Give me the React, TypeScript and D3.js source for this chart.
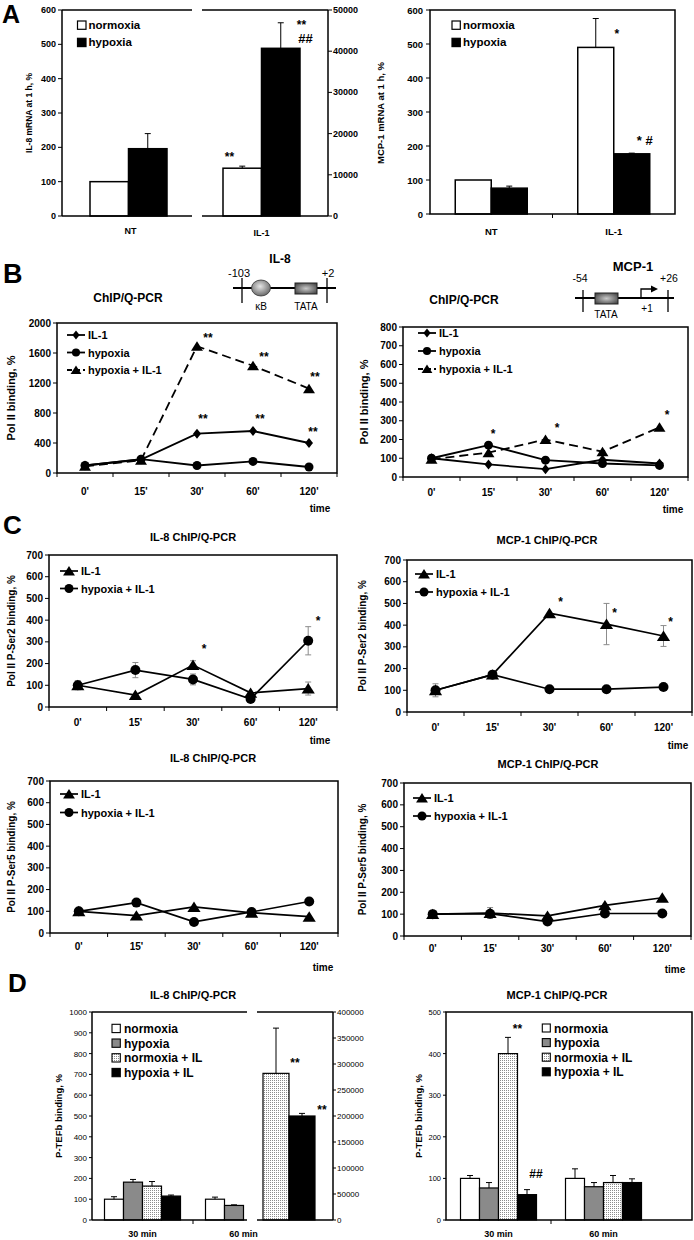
import React from "react";
import * as d3 from "d3";

const FONT = "'Liberation Sans', Arial, Helvetica, sans-serif";

// ---------- Panel A ----------
const groupsA = ["NT", "IL-1"];
const seriesA = ["normoxia", "hypoxia"];
const il8mRNA_NT = [100, 196];
const il8mRNA_NT_err = [100, 240];
const il8mRNA_IL1 = [11600, 40700]; // right axis units
const il8mRNA_IL1_err = [12100, 46900];
const mcp1mRNA_NT = [100, 76];
const mcp1mRNA_NT_err = [100, 82];
const mcp1mRNA_IL1 = [490, 177];
const mcp1mRNA_IL1_err = [575, 179];
const ticksA = [0, 100, 200, 300, 400, 500, 600];
const ticksA_right = [0, 10000, 20000, 30000, 40000, 50000];

// ---------- Panel B ----------
const timeLabels = ["0'", "15'", "30'", "60'", "120'"];
const bIL8_IL1 = [100, 180, 525, 560, 400];
const bIL8_hyp = [100, 185, 100, 155, 80];
const bIL8_hypIL1 = [90, 170, 1690, 1430, 1125];
const bMCP1_IL1 = [100, 67, 42, 92, 72];
const bMCP1_hyp = [100, 170, 90, 72, 62];
const bMCP1_hypIL1 = [95, 130, 200, 135, 265];
const ticksB_IL8 = [0, 400, 800, 1200, 1600, 2000];
const ticksB_MCP1 = [0, 100, 200, 300, 400, 500, 600, 700, 800];

// ---------- Panel C ----------
const cSer2IL8_IL1 = [100, 55, 193, 65, 85];
const cSer2IL8_IL1_sd = [20, 0, 20, 0, 30];
const cSer2IL8_hypIL1 = [100, 170, 127, 37, 305];
const cSer2IL8_hypIL1_sd = [20, 35, 25, 0, 65];
const cSer2MCP1_IL1 = [100, 172, 455, 405, 350];
const cSer2MCP1_IL1_sd = [30, 0, 0, 95, 48];
const cSer2MCP1_hypIL1 = [100, 172, 105, 105, 115];
const cSer5IL8_IL1 = [100, 80, 120, 93, 75];
const cSer5IL8_hypIL1 = [100, 140, 51, 97, 145];
const cSer5MCP1_IL1 = [100, 105, 92, 140, 175];
const cSer5MCP1_IL1_sd = [0, 25, 0, 0, 0];
const cSer5MCP1_hypIL1 = [100, 102, 66, 103, 103];
const ticksC = [0, 100, 200, 300, 400, 500, 600, 700];

// ---------- Panel D ----------
const timesD = ["30 min", "60 min"];
const seriesD = ["normoxia", "hypoxia", "normoxia + IL", "hypoxia + IL"];
const dIL8_30 = [100, 182, 163, 115];
const dIL8_30_err = [112, 195, 185, 120];
const dIL8_60 = [100, 70];
const dIL8_60_err = [110, 73];
const dIL8_60_IL = [282000, 200000]; // right axis units
const dIL8_60_IL_err = [369000, 205000];
const dMCP1_30 = [100, 77, 400, 61];
const dMCP1_30_err = [107, 90, 439, 73];
const dMCP1_60 = [100, 80, 90, 90];
const dMCP1_60_err = [123, 90, 107, 99];
const ticksD_IL8 = [0, 100, 200, 300, 400, 500, 600, 700, 800, 900, 1000];
const ticksD_IL8_right = [0, 50000, 100000, 150000, 200000, 250000, 300000, 350000, 400000];
const ticksD_MCP1 = [0, 100, 200, 300, 400, 500];

const fillsD = ["#fff", "#8a8a8a", "url(#stipple)", "#000"];

type Marker = "diamond" | "circle" | "triangle";

function MarkerShape({ m, x, y, s }: { m: Marker; x: number; y: number; s: number }) {
  if (m === "circle") return <circle cx={x} cy={y} r={s * 0.5} fill="#000" />;
  if (m === "diamond")
    return (
      <path
        d={`M${x},${y - s * 0.5}L${x + s * 0.4},${y}L${x},${y + s * 0.5}L${x - s * 0.4},${y}Z`}
        fill="#000"
      />
    );
  return (
    <path
      d={`M${x},${y - s * 0.5}L${x + s * 0.6},${y + s * 0.45}L${x - s * 0.6},${y + s * 0.45}Z`}
      fill="#000"
    />
  );
}

interface Series {
  name: string;
  values: number[];
  sd?: number[];
  marker: Marker;
  dashed?: boolean;
}
interface Annot {
  s: number;
  i: number;
  v: number;
  t: string;
  dx: number;
}
interface LPProps {
  left: number;
  right: number;
  top: number;
  bottom: number;
  ticks: number[];
  series: Series[];
  legendX: number;
  legendY: number;
  legendDy: number;
  annots: Annot[];
  yTitle: string;
  yTitleX: number;
  yTitleSize: number;
  xLabelY: number;
  timeX: number;
  timeY: number;
  msize: number;
  csize: number;
  lw: number;
}

function LinePanel(p: LPProps) {
  const x = d3.scaleBand<string>().domain(timeLabels).range([p.left, p.right]);
  const yMax = p.ticks[p.ticks.length - 1];
  const y = d3.scaleLinear().domain([0, yMax]).range([p.bottom, p.top]);
  const cx = (i: number) => (x(timeLabels[i]) as number) + x.bandwidth() / 2;
  const line = d3
    .line<number>()
    .x((_, i) => cx(i))
    .y((v) => y(v));
  const sz = (m: Marker) => (m === "circle" ? p.csize : p.msize);
  return (
    <g>
      <rect
        x={p.left}
        y={p.top}
        width={p.right - p.left}
        height={p.bottom - p.top}
        fill="none"
        stroke="#000"
        strokeWidth={1.5}
      />
      {p.ticks.map((t) => (
        <g key={t}>
          <line x1={p.left - 4} x2={p.left} y1={y(t)} y2={y(t)} stroke="#000" strokeWidth={1} />
          <text x={p.left - 6} y={y(t) + 3.5} textAnchor="end" fontSize={10} fontWeight="bold">
            {t}
          </text>
        </g>
      ))}
      {timeLabels.map((t, i) => (
        <g key={t}>
          <line
            x1={x(t) as number}
            x2={x(t) as number}
            y1={p.bottom}
            y2={p.bottom + 4}
            stroke="#000"
            strokeWidth={1}
          />
          <text x={cx(i)} y={p.xLabelY} textAnchor="middle" fontSize={10} fontWeight="bold">
            {t}
          </text>
        </g>
      ))}
      <line x1={p.right} x2={p.right} y1={p.bottom} y2={p.bottom + 4} stroke="#000" />
      <text x={p.timeX} y={p.timeY} textAnchor="middle" fontSize={10} fontWeight="bold">
        time
      </text>
      <text
        transform={`translate(${p.yTitleX},${(p.top + p.bottom) / 2}) rotate(-90)`}
        textAnchor="middle"
        fontSize={p.yTitleSize}
        fontWeight="bold"
      >
        {p.yTitle}
      </text>
      {p.series.map((s, si) =>
        (s.sd || []).map((e, i) =>
          e > 0 ? (
            <g key={`e${si}-${i}`} stroke="#8c8c8c" strokeWidth={1}>
              <line x1={cx(i)} x2={cx(i)} y1={y(s.values[i] - e)} y2={y(s.values[i] + e)} />
              <line x1={cx(i) - 3} x2={cx(i) + 3} y1={y(s.values[i] - e)} y2={y(s.values[i] - e)} />
              <line x1={cx(i) - 3} x2={cx(i) + 3} y1={y(s.values[i] + e)} y2={y(s.values[i] + e)} />
            </g>
          ) : null
        )
      )}
      {p.series.map((s, si) => (
        <path
          key={`l${si}`}
          d={line(s.values) as string}
          fill="none"
          stroke="#000"
          strokeWidth={p.lw}
          strokeDasharray={s.dashed ? "9,5" : undefined}
        />
      ))}
      {p.series.map((s, si) =>
        s.values.map((v, i) => (
          <MarkerShape key={`m${si}-${i}`} m={s.marker} x={cx(i)} y={y(v)} s={sz(s.marker)} />
        ))
      )}
      {p.annots.map((a, k) => (
        <text
          key={`a${k}`}
          x={cx(a.i) + a.dx}
          y={y(a.v)}
          textAnchor="middle"
          fontSize={12}
          fontWeight="bold"
        >
          {a.t}
        </text>
      ))}
      {p.series.map((s, si) => {
        const ly = p.legendY + si * p.legendDy;
        return (
          <g key={`lg${si}`}>
            <line
              x1={p.legendX}
              x2={p.legendX + 18}
              y1={ly}
              y2={ly}
              stroke="#000"
              strokeWidth={p.lw}
              strokeDasharray={s.dashed ? "5,3" : undefined}
            />
            <MarkerShape m={s.marker} x={p.legendX + 9} y={ly} s={sz(s.marker) * 0.9} />
            <text x={p.legendX + 21} y={ly + 4} fontSize={11} fontWeight="bold">
              {s.name}
            </text>
          </g>
        );
      })}
    </g>
  );
}

function ErrUp({ x, y0, y1 }: { x: number; y0: number; y1: number }) {
  if (Math.abs(y0 - y1) < 0.5) return null;
  return (
    <g stroke="#000" strokeWidth={1}>
      <line x1={x} x2={x} y1={y0} y2={y1} />
      <line x1={x - 3} x2={x + 3} y1={y1} y2={y1} />
    </g>
  );
}

function PanelALeft() {
  const L = 62,
    R = 328,
    T = 10,
    B = 216,
    gL = 192,
    gR = 202;
  const yL = d3.scaleLinear().domain([0, 600]).range([B, T]);
  const yR = d3.scaleLinear().domain([0, 50000]).range([B, T]);
  const x = d3.scaleBand<string>().domain(groupsA).range([L, R]);
  const bw = 38.5;
  const xs = d3.scaleBand<string>().domain(seriesA).range([-bw, bw]);
  const fills = ["#fff", "#000"];
  const groups = [
    { vals: il8mRNA_NT, errs: il8mRNA_NT_err, y: yL },
    { vals: il8mRNA_IL1, errs: il8mRNA_IL1_err, y: yR },
  ];
  const gc = (g: string) => (x(g) as number) + x.bandwidth() / 2;
  return (
    <g>
      <text x={2} y={23} fontSize={25} fontWeight="bold">
        A
      </text>
      {groups.map((G, gi) =>
        G.vals.map((v, si) => {
          const bx = gc(groupsA[gi]) + (xs(seriesA[si]) as number);
          return (
            <g key={`${gi}-${si}`}>
              <rect
                x={bx}
                y={G.y(v)}
                width={xs.bandwidth()}
                height={B - G.y(v)}
                fill={fills[si]}
                stroke="#000"
                strokeWidth={1.5}
              />
              <ErrUp x={bx + xs.bandwidth() / 2} y0={G.y(v)} y1={G.y(G.errs[si])} />
            </g>
          );
        })
      )}
      <g stroke="#000" strokeWidth={1.5}>
        <line x1={L} x2={gL} y1={T} y2={T} />
        <line x1={gR} x2={R} y1={T} y2={T} />
        <line x1={L} x2={gL} y1={B} y2={B} />
        <line x1={gR} x2={R} y1={B} y2={B} />
        <line x1={L} x2={L} y1={T} y2={B} />
        <line x1={R} x2={R} y1={T} y2={B} />
      </g>
      {ticksA.map((t) => (
        <g key={t}>
          <line x1={L - 4} x2={L} y1={yL(t)} y2={yL(t)} stroke="#000" />
          <text x={L - 6} y={yL(t) + 3} textAnchor="end" fontSize={9} fontWeight="bold">
            {t}
          </text>
        </g>
      ))}
      {ticksA_right.map((t) => (
        <g key={t}>
          <line x1={R} x2={R + 4} y1={yR(t)} y2={yR(t)} stroke="#000" />
          <text x={R + 5} y={yR(t) + 3} fontSize={9} fontWeight="bold">
            {t}
          </text>
        </g>
      ))}
      <text
        transform={`translate(32,${(T + B) / 2}) rotate(-90)`}
        textAnchor="middle"
        fontSize={8.5}
        fontWeight="bold"
      >
        IL-8 mRNA at 1 h, %
      </text>
      <text x={gc("NT") + 2} y={234} textAnchor="middle" fontSize={9} fontWeight="bold">
        NT
      </text>
      <text x={gc("IL-1")} y={236} textAnchor="middle" fontSize={9} fontWeight="bold">
        IL-1
      </text>
      <text x={gc("IL-1") - 32} y={yR(13300)} textAnchor="middle" fontSize={12} fontWeight="bold">
        **
      </text>
      <text x={gc("IL-1") + 40} y={yR(45400)} textAnchor="middle" fontSize={12} fontWeight="bold">
        **
      </text>
      <text x={gc("IL-1") + 44} y={yR(42000)} textAnchor="middle" fontSize={13} fontWeight="bold">
        ##
      </text>
      {seriesA.map((s, i) => (
        <g key={s}>
          <rect x={77.5} y={21 + i * 17.3} width={8.5} height={8.3} fill={fills[i]} stroke="#000" strokeWidth={1.2} />
          <text x={88.5} y={29 + i * 17.3} fontSize={11.5} fontWeight="bold">
            {s}
          </text>
        </g>
      ))}
    </g>
  );
}

function PanelARight() {
  const L = 430,
    R = 675,
    T = 10,
    B = 214;
  const y = d3.scaleLinear().domain([0, 600]).range([B, T]);
  const x = d3.scaleBand<string>().domain(groupsA).range([L, R]);
  const bw = 36;
  const xs = d3.scaleBand<string>().domain(seriesA).range([-bw, bw]);
  const fills = ["#fff", "#000"];
  const groups = [
    { vals: mcp1mRNA_NT, errs: mcp1mRNA_NT_err },
    { vals: mcp1mRNA_IL1, errs: mcp1mRNA_IL1_err },
  ];
  const gc = (g: string) => (x(g) as number) + x.bandwidth() / 2;
  return (
    <g>
      {groups.map((G, gi) =>
        G.vals.map((v, si) => {
          const bx = gc(groupsA[gi]) + (xs(seriesA[si]) as number);
          return (
            <g key={`${gi}-${si}`}>
              <rect
                x={bx}
                y={y(v)}
                width={xs.bandwidth()}
                height={B - y(v)}
                fill={fills[si]}
                stroke="#000"
                strokeWidth={1.5}
              />
              <ErrUp x={bx + xs.bandwidth() / 2} y0={y(v)} y1={y(G.errs[si])} />
            </g>
          );
        })
      )}
      <rect x={L} y={T} width={R - L} height={B - T} fill="none" stroke="#000" strokeWidth={1.5} />
      <line x1={gc("NT") + x.bandwidth() / 2} x2={gc("NT") + x.bandwidth() / 2} y1={B} y2={B + 4} stroke="#000" />
      {ticksA.map((t) => (
        <g key={t}>
          <line x1={L - 4} x2={L} y1={y(t)} y2={y(t)} stroke="#000" />
          <text x={L - 7} y={y(t) + 3.5} textAnchor="end" fontSize={9.5} fontWeight="bold">
            {t}
          </text>
        </g>
      ))}
      <text
        transform={`translate(384,${(T + B) / 2 + 1}) rotate(-90)`}
        textAnchor="middle"
        fontSize={9.5}
        fontWeight="bold"
      >
        MCP-1 mRNA at 1 h, %
      </text>
      {groupsA.map((g) => (
        <text key={g} x={gc(g)} y={235} textAnchor="middle" fontSize={9.5} fontWeight="bold">
          {g}
        </text>
      ))}
      <text x={gc("IL-1") + 3} y={y(518)} textAnchor="middle" fontSize={12} fontWeight="bold">
        *
      </text>
      <text x={gc("IL-1") + 31} y={y(203)} textAnchor="middle" fontSize={13} fontWeight="bold">
        * #
      </text>
      {seriesA.map((s, i) => (
        <g key={s}>
          <rect x={452} y={21 + i * 17.3} width={8.3} height={8.3} fill={fills[i]} stroke="#000" strokeWidth={1.2} />
          <text x={463} y={29 + i * 17.3} fontSize={11.5} fontWeight="bold">
            {s}
          </text>
        </g>
      ))}
    </g>
  );
}

function DiagramIL8() {
  return (
    <g>
      <text x={280} y={263} textAnchor="middle" fontSize={12} fontWeight="bold">
        IL-8
      </text>
      <text x={239} y={277} textAnchor="middle" fontSize={11}>
        -103
      </text>
      <text x={328} y={277} textAnchor="middle" fontSize={11}>
        +2
      </text>
      <line x1={233} x2={336} y1={288} y2={288} stroke="#000" strokeWidth={2} />
      <line x1={242} x2={242} y1={278} y2={303} stroke="#000" strokeWidth={1.3} />
      <line x1={327} x2={327} y1={278} y2={303} stroke="#000" strokeWidth={1.3} />
      <ellipse cx={261} cy={288} rx={9.5} ry={8} fill="url(#ballGrad)" stroke="#333" strokeWidth={0.8} />
      <rect x={295} y={283} width={22} height={11} fill="url(#boxGrad)" stroke="#222" strokeWidth={1} />
      <text x={261} y={310} textAnchor="middle" fontSize={10}>
        κB
      </text>
      <text x={306} y={310} textAnchor="middle" fontSize={10}>
        TATA
      </text>
    </g>
  );
}

function DiagramMCP1() {
  return (
    <g>
      <text x={633} y={271} textAnchor="middle" fontSize={13} fontWeight="bold">
        MCP-1
      </text>
      <text x={580} y={282} textAnchor="middle" fontSize={10.5}>
        -54
      </text>
      <text x={669} y={282} textAnchor="middle" fontSize={10.5}>
        +26
      </text>
      <line x1={575} x2={674} y1={298} y2={298} stroke="#000" strokeWidth={2} />
      <line x1={583} x2={583} y1={290} y2={312} stroke="#000" strokeWidth={1.3} />
      <line x1={668} x2={668} y1={290} y2={312} stroke="#000" strokeWidth={1.3} />
      <rect x={595} y={293} width={23} height={11} fill="url(#boxGrad)" stroke="#222" strokeWidth={1} />
      <path d="M641,298V289H652" fill="none" stroke="#000" strokeWidth={1.3} />
      <path d="M651,285.5L658,289L651,292.5Z" fill="#000" />
      <text x={647} y={312} textAnchor="middle" fontSize={10}>
        +1
      </text>
      <text x={606} y={318} textAnchor="middle" fontSize={10}>
        TATA
      </text>
    </g>
  );
}

function PanelD_IL8() {
  const L = 92,
    R = 333,
    T = 1012,
    B = 1220,
    gL = 247,
    gR = 257;
  const y = d3.scaleLinear().domain([0, 1000]).range([B, T]);
  const yR = d3.scaleLinear().domain([0, 400000]).range([B, T]);
  const x = d3.scaleBand<string>().domain(timesD).range([L, 294]);
  const bw = 19;
  const xs = d3.scaleBand<string>().domain(seriesD).range([-2 * bw, 2 * bw]);
  const xr = d3.scaleBand<string>().domain(seriesD.slice(2)).range([263, 315]);
  const gc = (g: string) => (x(g) as number) + x.bandwidth() / 2;
  const bars: { bx: number; w: number; v: number; e: number; f: string; sc: any }[] = [];
  dIL8_30.forEach((v, i) =>
    bars.push({ bx: gc(timesD[0]) + (xs(seriesD[i]) as number), w: bw, v, e: dIL8_30_err[i], f: fillsD[i], sc: y })
  );
  dIL8_60.forEach((v, i) =>
    bars.push({ bx: gc(timesD[1]) + (xs(seriesD[i]) as number), w: bw, v, e: dIL8_60_err[i], f: fillsD[i], sc: y })
  );
  dIL8_60_IL.forEach((v, i) =>
    bars.push({ bx: xr(seriesD[i + 2]) as number, w: xr.bandwidth(), v, e: dIL8_60_IL_err[i], f: fillsD[i + 2], sc: yR })
  );
  return (
    <g>
      <text x={8} y={992} fontSize={26} fontWeight="bold">
        D
      </text>
      <text x={193} y={999} textAnchor="middle" fontSize={11} fontWeight="bold">
        IL-8 ChIP/Q-PCR
      </text>
      {bars.map((b, k) => (
        <g key={k}>
          <rect x={b.bx} y={b.sc(b.v)} width={b.w} height={B - b.sc(b.v)} fill={b.f} stroke="#000" strokeWidth={1.2} />
          <ErrUp x={b.bx + b.w / 2} y0={b.sc(b.v)} y1={b.sc(b.e)} />
        </g>
      ))}
      <g stroke="#000" strokeWidth={1.5}>
        <line x1={L} x2={gL} y1={T} y2={T} />
        <line x1={gR} x2={R} y1={T} y2={T} />
        <line x1={L} x2={gL} y1={B} y2={B} />
        <line x1={gR} x2={R} y1={B} y2={B} />
        <line x1={L} x2={L} y1={T} y2={B} />
        <line x1={R} x2={R} y1={T} y2={B} />
      </g>
      <line x1={x(timesD[1]) as number} x2={x(timesD[1]) as number} y1={B} y2={B + 4} stroke="#000" />
      {ticksD_IL8.map((t) => (
        <g key={t}>
          <line x1={L - 3} x2={L} y1={y(t)} y2={y(t)} stroke="#000" />
          <text x={L - 5} y={y(t) + 3} textAnchor="end" fontSize={8}>
            {t}
          </text>
        </g>
      ))}
      {ticksD_IL8_right.map((t) => (
        <g key={t}>
          <line x1={R} x2={R + 3} y1={yR(t)} y2={yR(t)} stroke="#000" />
          <text x={R + 4} y={yR(t) + 3} fontSize={8}>
            {t}
          </text>
        </g>
      ))}
      <text
        transform={`translate(62,${(T + B) / 2}) rotate(-90)`}
        textAnchor="middle"
        fontSize={9.5}
        fontWeight="bold"
      >
        P-TEFb binding, %
      </text>
      {timesD.map((t) => (
        <text key={t} x={gc(t)} y={1236.5} textAnchor="middle" fontSize={9} fontWeight="bold">
          {t}
        </text>
      ))}
      <text x={(xr(seriesD[2]) as number) + xr.bandwidth() / 2 + 19} y={yR(293700)} textAnchor="middle" fontSize={12} fontWeight="bold">
        **
      </text>
      <text x={(xr(seriesD[3]) as number) + xr.bandwidth() / 2 + 20} y={yR(204800)} textAnchor="middle" fontSize={12} fontWeight="bold">
        **
      </text>
      {seriesD.map((s, i) => (
        <g key={s}>
          <rect x={112} y={1024.3 + i * 14.7} width={8.3} height={8.3} fill={fillsD[i]} stroke="#000" strokeWidth={1.1} />
          <text x={124} y={1033 + i * 14.7} fontSize={12} fontWeight="bold">
            {s}
          </text>
        </g>
      ))}
    </g>
  );
}

function PanelD_MCP1() {
  const L = 446,
    R = 692,
    T = 1012,
    B = 1220;
  const y = d3.scaleLinear().domain([0, 500]).range([B, T]);
  const x = d3.scaleBand<string>().domain(timesD).range([L, 656]);
  const bw = 19;
  const xs = d3.scaleBand<string>().domain(seriesD).range([-2 * bw, 2 * bw]);
  const gc = (g: string) => (x(g) as number) + x.bandwidth() / 2;
  const groups = [
    { vals: dMCP1_30, errs: dMCP1_30_err },
    { vals: dMCP1_60, errs: dMCP1_60_err },
  ];
  const barC = (gi: number, si: number) => gc(timesD[gi]) + (xs(seriesD[si]) as number) + bw / 2;
  return (
    <g>
      <text x={557} y={999} textAnchor="middle" fontSize={11} fontWeight="bold">
        MCP-1 ChIP/Q-PCR
      </text>
      {groups.map((G, gi) =>
        G.vals.map((v, si) => {
          const bx = gc(timesD[gi]) + (xs(seriesD[si]) as number);
          return (
            <g key={`${gi}-${si}`}>
              <rect x={bx} y={y(v)} width={bw} height={B - y(v)} fill={fillsD[si]} stroke="#000" strokeWidth={1.2} />
              <ErrUp x={bx + bw / 2} y0={y(v)} y1={y(G.errs[si])} />
            </g>
          );
        })
      )}
      <rect x={L} y={T} width={R - L} height={B - T} fill="none" stroke="#000" strokeWidth={1.5} />
      <line x1={x(timesD[1]) as number} x2={x(timesD[1]) as number} y1={B} y2={B + 4} stroke="#000" />
      {ticksD_MCP1.map((t) => (
        <g key={t}>
          <line x1={L - 3} x2={L} y1={y(t)} y2={y(t)} stroke="#000" />
          <text x={L - 5} y={y(t) + 3} textAnchor="end" fontSize={7.5}>
            {t}
          </text>
        </g>
      ))}
      <text
        transform={`translate(422,${(T + B) / 2}) rotate(-90)`}
        textAnchor="middle"
        fontSize={9.5}
        fontWeight="bold"
      >
        P-TEFb binding, %
      </text>
      {timesD.map((t) => (
        <text key={t} x={gc(t)} y={1236.5} textAnchor="middle" fontSize={9} fontWeight="bold">
          {t}
        </text>
      ))}
      <text x={barC(0, 2) + 9.5} y={y(450)} textAnchor="middle" fontSize={12} fontWeight="bold">
        **
      </text>
      <text x={barC(0, 3) + 9} y={y(100)} textAnchor="middle" fontSize={12} fontWeight="bold">
        ##
      </text>
      {seriesD.map((s, i) => (
        <g key={s}>
          <rect x={542.3} y={1024 + i * 14.6} width={8} height={8} fill={fillsD[i]} stroke="#000" strokeWidth={1.1} />
          <text x={554} y={1032.5 + i * 14.6} fontSize={12} fontWeight="bold">
            {s}
          </text>
        </g>
      ))}
    </g>
  );
}

export default function App() {
  const bSeriesIL8: Series[] = [
    { name: "IL-1", values: bIL8_IL1, marker: "diamond" },
    { name: "hypoxia", values: bIL8_hyp, marker: "circle" },
    { name: "hypoxia + IL-1", values: bIL8_hypIL1, marker: "triangle", dashed: true },
  ];
  const bSeriesMCP1: Series[] = [
    { name: "IL-1", values: bMCP1_IL1, marker: "diamond" },
    { name: "hypoxia", values: bMCP1_hyp, marker: "circle" },
    { name: "hypoxia + IL-1", values: bMCP1_hypIL1, marker: "triangle", dashed: true },
  ];
  return (
    <div style={{ position: "absolute", left: 0, top: 0 }}>
      <svg
        width={694}
        height={1240}
        viewBox="0 0 694 1240"
        style={{ display: "block", background: "#fff" }}
        fontFamily={FONT}
      >
        <defs>
          <pattern id="stipple" width={2} height={2} patternUnits="userSpaceOnUse">
            <rect width={2} height={2} fill="#fff" />
            <rect width={1} height={1} fill="#8c8c8c" />
          </pattern>
          <radialGradient id="ballGrad" cx="45%" cy="40%" r="60%">
            <stop offset="0%" stopColor="#e6e6e6" />
            <stop offset="100%" stopColor="#6a6a6a" />
          </radialGradient>
          <radialGradient id="boxGrad" cx="50%" cy="50%" r="60%">
            <stop offset="0%" stopColor="#c8c8c8" />
            <stop offset="100%" stopColor="#4a4a4a" />
          </radialGradient>
        </defs>
        <rect width={694} height={1240} fill="#fff" />
        <PanelALeft />
        <PanelARight />

        <text x={3} y={283} fontSize={27} fontWeight="bold">
          B
        </text>
        <DiagramIL8 />
        <DiagramMCP1 />
        <text x={128} y={302} textAnchor="middle" fontSize={12} fontWeight="bold">
          ChIP/Q-PCR
        </text>
        <text x={464} y={304} textAnchor="middle" fontSize={12} fontWeight="bold">
          ChIP/Q-PCR
        </text>
        <LinePanel
          left={57}
          right={337}
          top={323}
          bottom={473}
          ticks={ticksB_IL8}
          series={bSeriesIL8}
          legendX={67}
          legendY={335}
          legendDy={17.5}
          annots={[
            { s: 2, i: 2, v: 1747, t: "**", dx: 11 },
            { s: 2, i: 3, v: 1493, t: "**", dx: 11 },
            { s: 2, i: 4, v: 1227, t: "**", dx: 6 },
            { s: 0, i: 2, v: 667, t: "**", dx: 6 },
            { s: 0, i: 3, v: 667, t: "**", dx: 7 },
            { s: 0, i: 4, v: 493, t: "**", dx: 4 },
          ]}
          yTitle="Pol II binding, %"
          yTitleX={15}
          yTitleSize={11}
          xLabelY={495}
          timeX={320}
          timeY={512}
          msize={10}
          csize={9}
          lw={1.8}
        />
        <LinePanel
          left={403}
          right={688}
          top={327}
          bottom={477}
          ticks={ticksB_MCP1}
          series={bSeriesMCP1}
          legendX={418}
          legendY={333}
          legendDy={18}
          annots={[
            { s: 2, i: 1, v: 208, t: "*", dx: 4.5 },
            { s: 2, i: 2, v: 240, t: "*", dx: 11.5 },
            { s: 2, i: 4, v: 309, t: "*", dx: 7.5 },
          ]}
          yTitle="Pol II binding, %"
          yTitleX={368}
          yTitleSize={11}
          xLabelY={496}
          timeX={673}
          timeY={513}
          msize={10}
          csize={9}
          lw={1.8}
        />

        <text x={3} y={534} fontSize={26} fontWeight="bold">
          C
        </text>
        <text x={193} y={541} textAnchor="middle" fontSize={11} fontWeight="bold">
          IL-8 ChIP/Q-PCR
        </text>
        <text x={547} y={544} textAnchor="middle" fontSize={11} fontWeight="bold">
          MCP-1 ChIP/Q-PCR
        </text>
        <LinePanel
          left={49}
          right={337}
          top={555}
          bottom={707}
          ticks={ticksC}
          series={[
            { name: "IL-1", values: cSer2IL8_IL1, sd: cSer2IL8_IL1_sd, marker: "triangle" },
            { name: "hypoxia + IL-1", values: cSer2IL8_hypIL1, sd: cSer2IL8_hypIL1_sd, marker: "circle" },
          ]}
          legendX={60}
          legendY={571}
          legendDy={17.5}
          annots={[
            { s: 0, i: 2, v: 249, t: "*", dx: 11 },
            { s: 1, i: 4, v: 378, t: "*", dx: 10 },
          ]}
          yTitle="Pol II P-Ser2 binding, %"
          yTitleX={15}
          yTitleSize={10}
          xLabelY={726}
          timeX={320}
          timeY={744}
          msize={11}
          csize={10}
          lw={1.7}
        />
        <LinePanel
          left={407}
          right={692}
          top={560}
          bottom={712}
          ticks={ticksC}
          series={[
            { name: "IL-1", values: cSer2MCP1_IL1, sd: cSer2MCP1_IL1_sd, marker: "triangle" },
            { name: "hypoxia + IL-1", values: cSer2MCP1_hypIL1, marker: "circle" },
          ]}
          legendX={415}
          legendY={574}
          legendDy={18}
          annots={[
            { s: 0, i: 2, v: 488, t: "*", dx: 11 },
            { s: 0, i: 3, v: 438, t: "*", dx: 8 },
            { s: 0, i: 4, v: 396, t: "*", dx: 7 },
          ]}
          yTitle="Pol II P-Ser2 binding, %"
          yTitleX={366}
          yTitleSize={10}
          xLabelY={731}
          timeX={678}
          timeY={749}
          msize={11}
          csize={10}
          lw={1.7}
        />
        <text x={213} y={762} textAnchor="middle" fontSize={11} fontWeight="bold">
          IL-8 ChIP/Q-PCR
        </text>
        <text x={548} y={768} textAnchor="middle" fontSize={11} fontWeight="bold">
          MCP-1 ChIP/Q-PCR
        </text>
        <LinePanel
          left={50}
          right={338}
          top={781}
          bottom={933}
          ticks={ticksC}
          series={[
            { name: "IL-1", values: cSer5IL8_IL1, marker: "triangle" },
            { name: "hypoxia + IL-1", values: cSer5IL8_hypIL1, marker: "circle" },
          ]}
          legendX={60}
          legendY={794}
          legendDy={18.5}
          annots={[]}
          yTitle="Pol II P-Ser5 binding, %"
          yTitleX={15}
          yTitleSize={10}
          xLabelY={950}
          timeX={323}
          timeY={971}
          msize={11}
          csize={10}
          lw={1.7}
        />
        <LinePanel
          left={404}
          right={691}
          top={783}
          bottom={936}
          ticks={ticksC}
          series={[
            { name: "IL-1", values: cSer5MCP1_IL1, sd: cSer5MCP1_IL1_sd, marker: "triangle" },
            { name: "hypoxia + IL-1", values: cSer5MCP1_hypIL1, marker: "circle" },
          ]}
          legendX={413}
          legendY={798}
          legendDy={18}
          annots={[]}
          yTitle="Pol II P-Ser5 binding, %"
          yTitleX={366}
          yTitleSize={10}
          xLabelY={952}
          timeX={675}
          timeY={973}
          msize={11}
          csize={10}
          lw={1.7}
        />

        <PanelD_IL8 />
        <PanelD_MCP1 />
      </svg>
    </div>
  );
}
